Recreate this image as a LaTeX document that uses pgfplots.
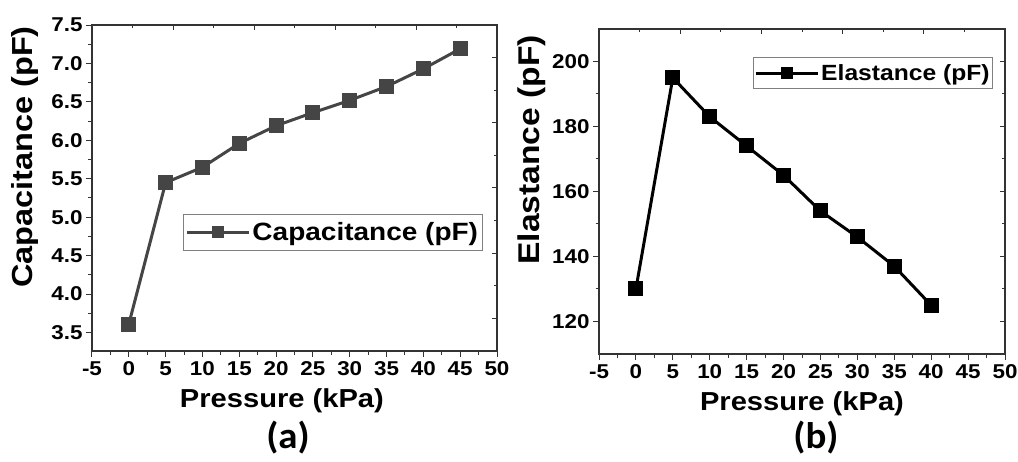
\documentclass[border=0pt]{standalone}
\usepackage{fontspec}
\setmainfont{Liberation Sans}[FakeStretch=1.12]
\newfontfamily\panelfont{Carlito}[FakeStretch=1.05]
\usepackage{pgfplots}
\pgfplotsset{compat=1.18}

\definecolor{capgray}{HTML}{454545}
\definecolor{framegray}{HTML}{333333}

\pgfplotsset{
  panel/.style={
    scale only axis, width=405pt, height=326pt,
    axis line style={framegray, line width=1.2pt},
    tick style={framegray, line width=1pt},
    major tick length=6pt, minor tick length=3.5pt,
    xtick pos=bottom, ytick pos=left, tick align=outside,
    xmin=-5, xmax=50, xtick={-5,0,...,50}, minor x tick num=1,
    ticklabel style={font=\fontsize{20}{20}\selectfont\bfseries},
    /pgf/number format/assume math mode=true,
    xticklabel style={yshift=-1pt},
    legend image code/.code={
      \draw[mark repeat=2, mark phase=2, #1, mark size=4.5pt] plot coordinates {(0pt,0pt) (31pt,0pt) (62pt,0pt)};},
  },
  frame/.style={
    scale only axis, width=405pt, height=326pt,
    axis line style={framegray, line width=1.2pt},
    tick style={framegray, line width=1pt},
    major tick length=5pt, minor tick length=3.5pt,
    xtick pos=top, ytick pos=right, tick align=inside,
    xmin=0, xmax=10, xtick={0,2,...,10}, minor x tick num=1,
    ymin=110, ymax=210, ytick={120,140,...,200}, minor y tick num=1,
    xticklabels={}, yticklabels={},
  },
}

\begin{document}
\begin{tikzpicture}[x=1pt,y=1pt]
\path[use as bounding box] (0,0) rectangle (1018,461);

% (a) capacitance
\begin{axis}[panel, at={(92pt,110pt)}, anchor=south west,
  ymin=3.26, ymax=7.5, ytick={3.5,4,...,7.5}, minor y tick num=1,
  yticklabel style={/pgf/number format/.cd, fixed, fixed zerofill, precision=1},
  xlabel={\fontsize{26}{26}\selectfont\bfseries Pressure (kPa)},
  ylabel={\fontsize{29}{29}\selectfont\bfseries Capacitance (pF)},
  xlabel style={at={(rel axis cs:0.469,-0.152)}, anchor=center},
  ylabel style={at={(rel axis cs:-0.165,0.595)}, anchor=center},
  legend style={at={(rel axis cs:0.225,0.42)}, anchor=north west,
    draw=gray, line width=0.7pt, inner xsep=2pt, inner ysep=6pt,
    font=\fontsize{25}{25}\selectfont\bfseries},
  legend cell align=left]
\addplot[capgray, line width=3pt, mark=square*, mark size=6pt,
  mark options={solid, fill=capgray}] coordinates {
  (0,3.61) (5,5.45) (10,5.65) (15,5.96) (20,6.19)
  (25,6.36) (30,6.52) (35,6.70) (40,6.93) (45,7.19)};
\addlegendentry{Capacitance (pF)}
\end{axis}
\begin{axis}[frame, at={(92pt,110pt)}, anchor=south west]
\end{axis}

% (b) elastance
\begin{axis}[panel, at={(599pt,107pt)}, anchor=south west, width=406pt, height=325pt,
  ymin=110, ymax=210, ytick={120,140,...,200}, minor y tick num=1,
  xlabel={\fontsize{26}{26}\selectfont\bfseries Pressure (kPa)},
  ylabel={\fontsize{30}{30}\selectfont\bfseries Elastance (pF)},
  xlabel style={at={(rel axis cs:0.5,-0.153)}, anchor=center},
  ylabel style={at={(rel axis cs:-0.165,0.628)}, anchor=center},
  legend style={at={(rel axis cs:0.379,0.914)}, anchor=north west,
    draw=gray, line width=0.7pt, inner xsep=1pt, inner ysep=5pt,
    font=\fontsize{22}{22}\selectfont\bfseries},
  legend cell align=left]
\addplot[black, line width=3pt, mark=square*, mark size=6pt,
  mark options={solid, fill=black}] coordinates {
  (0,130) (5,195) (10,183) (15,174) (20,165)
  (25,154) (30,146) (35,137) (40,125)};
\addlegendentry{Elastance (pF)}
\end{axis}
\begin{axis}[frame, at={(599pt,107pt)}, anchor=south west, width=406pt, height=325pt]
\end{axis}

\node[font=\panelfont\fontsize{37}{37}\selectfont\bfseries] at (288,23) {(a)};
\node[font=\panelfont\fontsize{37}{37}\selectfont\bfseries] at (816,23) {(b)};
\end{tikzpicture}
\end{document}
